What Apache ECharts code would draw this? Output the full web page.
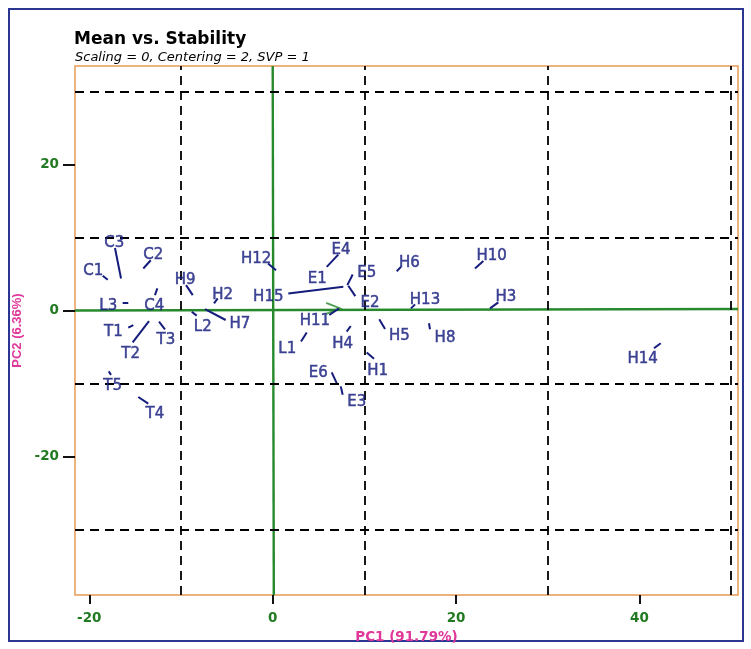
<!DOCTYPE html>
<html>
<head>
<meta charset="utf-8">
<script src="https://cdn.jsdelivr.net/npm/echarts@6/dist/echarts.min.js"></script>
<style>
  html, body { margin: 0; padding: 0; background: #fff; }
  #chart { width: 751px; height: 649px; }
</style>
</head>
<body>
<div id="chart"></div>
<script>
// genotype labels and where each label sits (PC1, PC2)
var names  = ['C1','C2','C3','C4','L1','L2','L3','T1','T2','T3','T4','T5',
              'E1','E2','E3','E4','E5','E6',
              'H1','H2','H3','H4','H5','H6','H7','H8','H9','H10','H11','H12','H13','H14','H15'];
var labelX = [-19.56,-13.02,-17.27,-12.91, 1.59,-7.63,-17.93,-17.38,-15.49,-11.64,-12.84,-17.45,
               4.86,10.61, 9.16, 7.45,10.25, 4.97,
              11.45,-5.45,25.44, 7.63,13.81,14.90,-3.57,18.79,-9.56,23.88, 4.61,-1.80,16.61,40.35,-0.48];
var labelY = [ 5.83, 8.01, 9.59, 0.95,-4.87,-1.91, 0.95,-2.55,-5.55,-3.72,-13.82,-10.00,
               4.73, 1.41,-12.10, 8.69, 5.50,-8.14,
              -7.91, 2.55, 2.18,-4.19,-3.14, 6.86,-1.54,-3.37, 4.60, 7.82,-1.09, 7.46, 1.87,-6.32, 2.22];
// leader segment of each label (start -> end), null where there is none
var segX1 = [-18.54,-13.30,-17.20,-12.58, 3.71,-8.83,-16.36,-15.75,-13.49,-12.40,-14.66,-17.88,
              null, 8.24, 7.42, 7.15, 8.72, 6.43,
             10.25,-6.00,24.60, 8.51,11.62,13.99,-7.38,17.04,-9.45,22.97, 6.17,-0.51,15.52,41.58, 1.70];
var segY1 = [ 4.73, 6.86, 8.55, 3.00,-3.04,-0.18, 1.09,-2.36,-1.46,-1.54,-11.87,-8.36,
              null, 3.37,-10.41, 7.64, 4.91,-8.50,
             -5.77, 1.64, 1.09,-2.14,-1.23, 5.96, 0.18,-1.77, 3.45, 6.75,-0.64, 6.41, 0.82,-5.18, 2.32];
var segX2 = [-17.99,-14.11,-16.54,-12.84, 3.09,-8.29,-15.75,-15.20,-15.27,-11.75,-13.57,-17.63,
              null, 9.01, 7.63, 5.89, 8.14, 6.98,
             11.05,-6.40,23.70, 8.07,12.25,13.52,-5.13,17.15,-8.72,22.06, 7.23, 0.36,15.08,42.31, 7.70];
var segY2 = [ 4.19, 5.73, 4.37, 2.09,-4.27,-0.72, 1.09,-2.01,-4.37,-2.59,-12.78,-8.83,
              null, 1.95,-11.56, 5.96, 3.45,-9.96,
             -6.64, 0.95, 0.27,-2.91,-2.55, 5.36,-1.32,-2.59, 2.09, 5.73, 0.27, 5.50, 0.27,-4.50, 3.23];

// axes
var xRange = [-21.56, 50.74];
var yRange = [-39.0, 33.47];
var xTicks = [-20, 0, 20, 40];
var yTicks = [-20, 0, 20];
var xGrid = [-10, 10, 30, 50];
var yGrid = [-30, -10, 10, 30];

// average tester axis and its perpendicular
var atcLine = [[-21.56, -0.02], [50.74, 0.18]];
var perpLine = [[0, 33.47], [0.12, -39.0]];
var atcArrow = [6.6, 0.27];

var navy = '#141c7c';
var green = '#268a2c';
var pink = '#e0379a';

var labelData = [];
var segData = [];
for (var i = 0; i < names.length; i++) {
    labelData.push({name: names[i], value: [labelX[i], labelY[i]]});
    if (segX1[i] !== null) {
        segData.push({coords: [[segX1[i], segY1[i]], [segX2[i], segY2[i]]]});
    }
}

var gridMarks = [];
xGrid.forEach(function (v) { gridMarks.push({xAxis: v}); });
yGrid.forEach(function (v) { gridMarks.push({yAxis: v}); });

var myChart = echarts.init(document.getElementById('chart'));
var option = {
    animation: false,
    title: [
        {
            text: 'Mean vs. Stability',
            left: 74, top: 31, padding: 0,
            textStyle: {fontFamily: 'DejaVu Sans', fontWeight: 'bold', fontSize: 17, color: '#000'}
        },
        {
            text: 'Scaling = 0, Centering = 2, SVP = 1',
            left: 75, top: 51, padding: 0,
            textStyle: {fontFamily: 'DejaVu Sans', fontStyle: 'italic', fontWeight: 'normal', fontSize: 13, color: '#000'}
        }
    ],
    graphic: [
        {
            type: 'rect',
            shape: {x: 9, y: 9, width: 734, height: 632},
            style: {fill: 'none', stroke: '#2b3592', lineWidth: 2},
            silent: true
        }
    ],
    grid: {
        left: 75, right: 13, top: 66, bottom: 51,
        show: true, borderColor: '#e89a55', borderWidth: 1.5, backgroundColor: '#fff'
    },
    xAxis: {
        type: 'value',
        min: xRange[0], max: xRange[1],
        name: 'PC1 (91.79%)',
        nameLocation: 'middle',
        nameGap: 33,
        nameTextStyle: {color: pink, fontWeight: 'bold', fontSize: 13.5, fontFamily: 'DejaVu Sans'},
        axisLine: {show: false, onZero: false},
        axisTick: {show: true, customValues: xTicks, length: 9, lineStyle: {color: '#111', width: 2}},
        axisLabel: {customValues: xTicks, margin: 16, color: '#227a22', fontWeight: 'bold', fontSize: 13.5, fontFamily: 'DejaVu Sans'},
        splitLine: {show: false}
    },
    yAxis: {
        type: 'value',
        min: yRange[0], max: yRange[1],
        name: 'PC2 (6.36%)',
        nameLocation: 'middle',
        nameGap: 46,
        nameTextStyle: {color: pink, fontWeight: 'bold', fontSize: 13, fontFamily: 'Liberation Sans'},
        axisLine: {show: false, onZero: false},
        axisTick: {show: true, customValues: yTicks, length: 12, lineStyle: {color: '#111', width: 2}},
        axisLabel: {customValues: yTicks, margin: 16, color: '#227a22', fontWeight: 'bold', fontSize: 13.5, fontFamily: 'DejaVu Sans'},
        splitLine: {show: false}
    },
    series: [
        {
            // dashed reference grid
            type: 'scatter',
            data: [],
            silent: true,
            z: 1,
            markLine: {
                silent: true,
                symbol: 'none',
                label: {show: false},
                lineStyle: {color: '#000', type: [9, 6], width: 1.8},
                data: gridMarks
            }
        },
        {
            type: 'lines',
            coordinateSystem: 'cartesian2d',
            silent: true,
            z: 2,
            lineStyle: {color: green, width: 2.4, opacity: 1},
            data: [{coords: atcLine}, {coords: perpLine}]
        },
        {
            type: 'scatter',
            silent: true,
            z: 3,
            symbol: 'path://M0,0L12,5L0,10',
            symbolSize: [14, 11],
            symbolKeepAspect: false,
            itemStyle: {color: 'rgba(0,0,0,0)', borderColor: green, borderWidth: 2},
            data: [atcArrow]
        },
        {
            type: 'lines',
            coordinateSystem: 'cartesian2d',
            silent: true,
            z: 4,
            lineStyle: {color: navy, width: 2, opacity: 1},
            data: segData
        },
        {
            type: 'scatter',
            silent: true,
            z: 5,
            symbolSize: 1,
            itemStyle: {color: 'rgba(0,0,0,0)'},
            label: {
                show: true,
                position: 'inside',
                offset: [0, 3],
                formatter: '{b}',
                color: navy,
                fontSize: 15,
                fontFamily: 'DejaVu Sans',
                textBorderColor: navy,
                textBorderWidth: 0.5
            },
            data: labelData
        }
    ]
};
myChart.setOption(option);
</script>
</body>
</html>
